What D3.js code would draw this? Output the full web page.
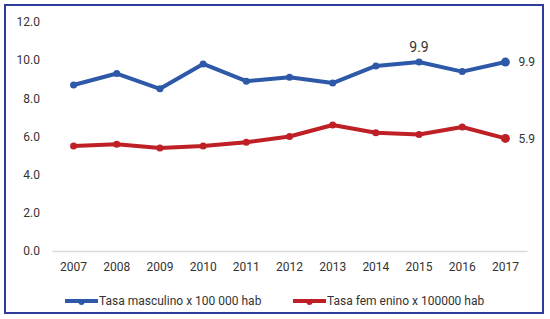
<!DOCTYPE html>
<html>
<head>
<meta charset="utf-8">
<script src="https://cdn.jsdelivr.net/npm/d3@7"></script>
<style>
  body { margin: 0; background: #fff; }
  text { font-family: Roboto, "Liberation Sans", sans-serif; fill: #333; }
</style>
</head>
<body>
<div id="chart"></div>
<script>
var years = ['2007','2008','2009','2010','2011','2012','2013','2014','2015','2016','2017'];
var masculino = [8.7, 9.3, 8.5, 9.8, 8.9, 9.1, 8.8, 9.7, 9.9, 9.4, 9.9];
var femenino = [5.5, 5.6, 5.4, 5.5, 5.7, 6.0, 6.6, 6.2, 6.1, 6.5, 5.9];
var yTicks = [0, 2, 4, 6, 8, 10, 12];
var seriesNames = ['Tasa masculino x 100 000 hab', 'Tasa fem enino x 100000 hab'];

var width = 550, height = 319;
var blue = '#2E59A8', red = '#BE2026';

var svg = d3.select('#chart').append('svg')
  .attr('width', width)
  .attr('height', height);

// frame
svg.append('rect')
  .attr('x', 5).attr('y', 5)
  .attr('width', 538).attr('height', 308)
  .attr('fill', 'none')
  .attr('stroke', '#2F3C9B')
  .attr('stroke-width', 2);

var xScale = d3.scaleBand()
  .domain(years)
  .range([52, 527]);

var yScale = d3.scaleLinear()
  .domain([0, 12])
  .range([251, 22]);

// y labels (no axis line)
svg.append('g')
  .selectAll('text')
  .data(yTicks)
  .enter()
  .append('text')
  .attr('x', 40)
  .attr('y', function(d) { return yScale(d); })
  .attr('dy', '0.35em')
  .attr('text-anchor', 'end')
  .style('font-size', '12px')
  .text(function(d) { return d3.format('.1f')(d); });

// x axis
var xAxis = d3.axisBottom(xScale).tickSize(0).tickPadding(11);
var xg = svg.append('g')
  .attr('transform', 'translate(0,' + yScale(0) + ')')
  .call(xAxis);
xg.select('.domain').attr('stroke', '#d9d9d9').attr('stroke-width', 1.5);
xg.selectAll('text')
  .style('font-size', '12px')
  .style('font-family', 'Roboto, sans-serif')
  .attr('fill', '#333');

var line = d3.line()
  .x(function(d, i) { return xScale(years[i]) + xScale.bandwidth() / 2; })
  .y(function(d) { return yScale(d); });

function drawSeries(vals, color) {
  svg.append('path')
    .attr('d', line(vals))
    .attr('fill', 'none')
    .attr('stroke', color)
    .attr('stroke-width', 4)
    .attr('stroke-linejoin', 'round');
  svg.append('g')
    .selectAll('circle')
    .data(vals)
    .enter()
    .append('circle')
    .attr('cx', function(d, i) { return xScale(years[i]) + xScale.bandwidth() / 2; })
    .attr('cy', function(d) { return yScale(d); })
    .attr('r', function(d, i) { return i === vals.length - 1 ? 4.5 : 3.5; })
    .attr('fill', color);
}
drawSeries(masculino, blue);
drawSeries(femenino, red);

// data labels
var cx = function(i) { return xScale(years[i]) + xScale.bandwidth() / 2; };
svg.append('text')
  .attr('x', cx(8))
  .attr('y', yScale(masculino[8]) - 10)
  .attr('text-anchor', 'middle')
  .style('font-size', '14px')
  .attr('fill', '#222')
  .text(masculino[8].toFixed(1));
svg.append('text')
  .attr('x', cx(10) + 13)
  .attr('y', yScale(masculino[10]))
  .attr('dy', '0.35em')
  .style('font-size', '12px')
  .text(masculino[10].toFixed(1));
svg.append('text')
  .attr('x', cx(10) + 13)
  .attr('y', yScale(femenino[10]))
  .attr('dy', '0.35em')
  .style('font-size', '12px')
  .text(femenino[10].toFixed(1));

// legend
var legendItems = [
  { name: seriesNames[0], color: blue, x: 65 },
  { name: seriesNames[1], color: red, x: 293 }
];
var lg = svg.append('g').selectAll('g')
  .data(legendItems)
  .enter()
  .append('g')
  .attr('transform', function(d) { return 'translate(' + d.x + ',301)'; });
lg.append('line')
  .attr('x1', 0).attr('x2', 33)
  .attr('y1', 0).attr('y2', 0)
  .attr('stroke', function(d) { return d.color; })
  .attr('stroke-width', 4);
lg.append('circle')
  .attr('cx', 16.5).attr('cy', 1)
  .attr('r', 3)
  .attr('fill', function(d) { return d.color; });
lg.append('text')
  .attr('x', 34)
  .attr('dy', '0.35em')
  .style('font-size', '12px')
  .text(function(d) { return d.name; });
</script>
</body>
</html>
